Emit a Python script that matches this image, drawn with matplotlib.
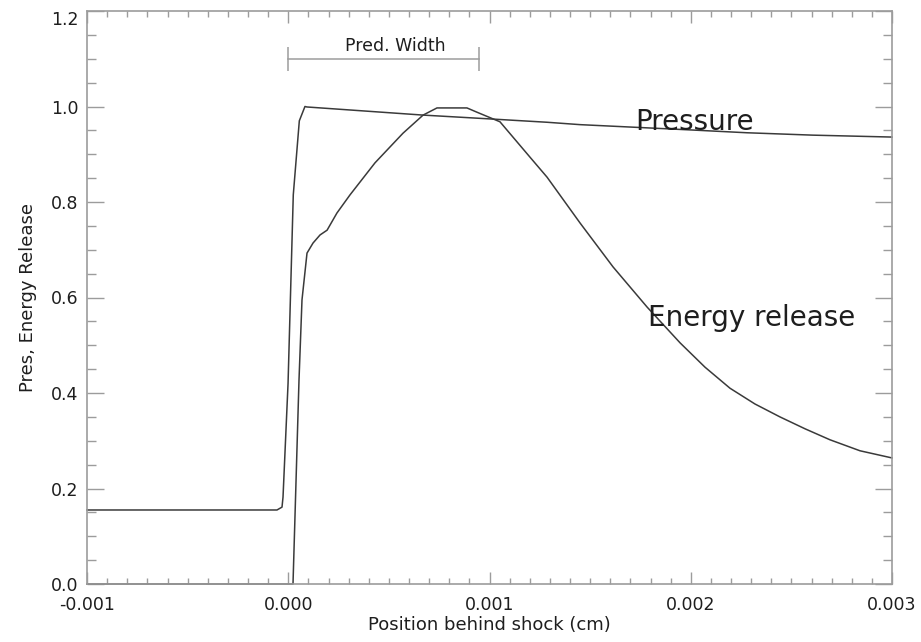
import matplotlib
matplotlib.use("Agg")
import matplotlib.pyplot as plt
from matplotlib.ticker import MultipleLocator

# Pressure profile (normalized) vs position behind shock
PRESSURE_X = [
    -0.001, -0.000056, -0.000031, -0.000026, -0.000001, 0.000025, 0.000055,
    0.000083, 0.000093, 0.00067, 0.001002, 0.001286, 0.00145, 0.001698,
    0.001996, 0.00228, 0.002607, 0.003,
]
PRESSURE_Y = [
    0.155, 0.155, 0.161, 0.182, 0.42, 0.815, 0.97,
    1.0, 0.999, 0.982, 0.974, 0.967, 0.962, 0.957,
    0.951, 0.945, 0.94, 0.936,
]

# Energy release profile (normalized)
ENERGY_X = [
    -0.001, 0.0000236, 0.0000534, 0.0000683, 0.0000932, 0.000123, 0.000158,
    0.000193, 0.000242, 0.000307, 0.000431, 0.00057, 0.00067, 0.000739,
    0.000888, 0.000938, 0.001052, 0.001201, 0.001286, 0.00145, 0.001614,
    0.001783, 0.001947, 0.002071, 0.002195, 0.002319, 0.002443, 0.002568,
    0.002692, 0.002841, 0.003,
]
ENERGY_Y = [
    0.0, 0.0, 0.427, 0.595, 0.693, 0.714, 0.731,
    0.741, 0.777, 0.815, 0.882, 0.944, 0.982, 0.997,
    0.997, 0.988, 0.968, 0.894, 0.852, 0.756, 0.664,
    0.58, 0.505, 0.454, 0.41, 0.377, 0.35, 0.325,
    0.302, 0.279, 0.264,
]

# predicted reaction-zone width marker
PRED_WIDTH_START = 0.0
PRED_WIDTH_END = 0.00095
PRED_WIDTH_Y = 1.10

X_TICKS = [-0.001, 0.0, 0.001, 0.002, 0.003]
X_TICK_LABELS = ["-0.001", "0.000", "0.001", "0.002", "0.003"]
Y_TICKS = [0.0, 0.2, 0.4, 0.6, 0.8, 1.0, 1.2]
Y_TICK_LABELS = ["0.0", "0.2", "0.4", "0.6", "0.8", "1.0", "1.2"]

LINE_COLOR = "#3a3a3a"
AXIS_COLOR = "#9c9c9c"
TEXT_COLOR = "#1e1e1e"

fig = plt.figure(figsize=(9.21, 6.42), dpi=100)
ax = fig.add_axes([87 / 921, 58 / 642, 805 / 921, 573 / 642])

ax.plot(PRESSURE_X, PRESSURE_Y, color=LINE_COLOR, lw=1.1, clip_on=False)
ax.plot(ENERGY_X, ENERGY_Y, color=LINE_COLOR, lw=1.1, clip_on=False)

# width bar with end caps
ax.plot([PRED_WIDTH_START, PRED_WIDTH_END], [PRED_WIDTH_Y, PRED_WIDTH_Y],
        color=AXIS_COLOR, lw=1.1)
ax.vlines([PRED_WIDTH_START, PRED_WIDTH_END], PRED_WIDTH_Y - 0.025,
          PRED_WIDTH_Y + 0.025, color=AXIS_COLOR, lw=1.1)
ax.text(0.00053, 1.127, "Pred. Width", ha="center", va="center",
        fontsize=12.5, color=TEXT_COLOR)

ax.text(0.001723, 0.951, "Pressure", ha="left", va="baseline",
        fontsize=20, color=TEXT_COLOR)
ax.text(0.001788, 0.540, "Energy release", ha="left", va="baseline",
        fontsize=20, color=TEXT_COLOR)

ax.set_xlim(-0.001, 0.003)
ax.set_ylim(0.0, 1.2)
ax.set_xticks(X_TICKS)
ax.set_xticklabels(X_TICK_LABELS)
ax.set_yticks(Y_TICKS)
ax.set_yticklabels(Y_TICK_LABELS)
ax.xaxis.set_minor_locator(MultipleLocator(0.0001))
ax.yaxis.set_minor_locator(MultipleLocator(0.05))

for side in ax.spines.values():
    side.set_color(AXIS_COLOR)
    side.set_linewidth(1.2)

ax.tick_params(axis="both", which="both", direction="in", colors=AXIS_COLOR,
               top=True, right=True, labelcolor=TEXT_COLOR, labelsize=12.5)
ax.tick_params(axis="x", which="major", length=8.5, width=1.0, pad=9)
ax.tick_params(axis="x", which="minor", length=4.3, width=1.0)
ax.tick_params(axis="y", which="major", length=12.5, width=1.0, pad=6)
ax.tick_params(axis="y", which="minor", length=6.5, width=1.0)

# keep the top label inside the figure
ax.get_yticklabels()[-1].set_verticalalignment("top")

ax.set_xlabel("Position behind shock (cm)", fontsize=13, color=TEXT_COLOR,
              labelpad=1)
ax.set_ylabel("Pres, Energy Release", fontsize=13, color=TEXT_COLOR,
              labelpad=10)

fig.savefig("out.png", dpi=100, facecolor="white")
